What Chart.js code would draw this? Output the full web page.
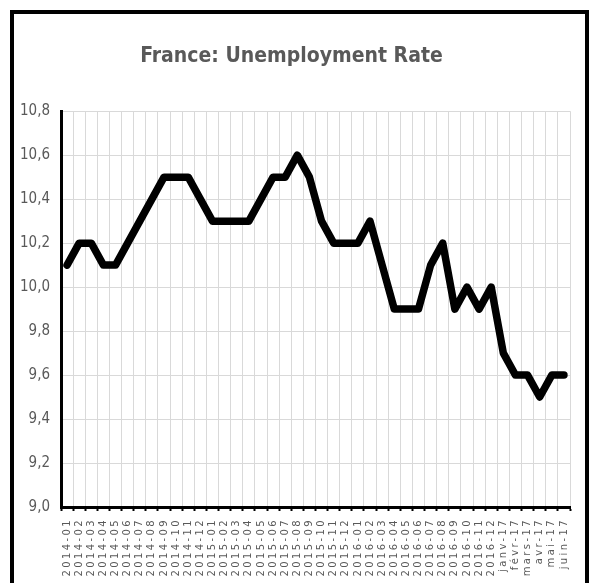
<!DOCTYPE html>
<html>
<head>
<meta charset="utf-8">
<script src="https://cdn.jsdelivr.net/npm/chart.js@4/dist/chart.umd.min.js"></script>
<style>
  html, body { margin: 0; padding: 0; background: #fff; overflow: hidden; }
  #wrap { position: relative; width: 590px; height: 583px; }
  #frame { position: absolute; left: 10px; top: 10px; width: 571px; height: 600px;
           border: 4px solid #000; pointer-events: none; }
</style>
</head>
<body>
<div id="wrap">
  <canvas id="line-chart" width="590" height="583"></canvas>
  <div id="frame"></div>
</div>
<script>
// data
const months = [
  "2014-01","2014-02","2014-03","2014-04","2014-05","2014-06","2014-07","2014-08","2014-09","2014-10","2014-11","2014-12",
  "2015-01","2015-02","2015-03","2015-04","2015-05","2015-06","2015-07","2015-08","2015-09","2015-10","2015-11","2015-12",
  "2016-01","2016-02","2016-03","2016-04","2016-05","2016-06","2016-07","2016-08","2016-09","2016-10","2016-11","2016-12",
  "janv-17","févr-17","mars-17","avr-17","mai-17","juin-17"
];
const unemployment = [
  10.1,10.2,10.2,10.1,10.1,10.2,10.3,10.4,10.5,10.5,10.5,10.4,
  10.3,10.3,10.3,10.3,10.4,10.5,10.5,10.6,10.5,10.3,10.2,10.2,
  10.2,10.3,10.1,9.9,9.9,9.9,10.1,10.2,9.9,10.0,9.9,10.0,
  9.7,9.6,9.6,9.5,9.6,9.6
];
const yMin = 9.0, yMax = 10.8, yStep = 0.2;

// spaced-out month labels, like the spreadsheet rendering
const spacedLabels = {
  id: 'spacedLabels',
  afterUpdate(chart) {
    const s = chart.scales.x;
    if (s._spaced) return;
    const orig = s.drawLabels.bind(s);
    s.drawLabels = function (area) {
      const ctx = this.ctx;
      ctx.save();
      ctx.letterSpacing = '2.4px';
      orig(area);
      ctx.restore();
    };
    s._spaced = true;
  }
};

new Chart(document.getElementById("line-chart"), {
  type: 'line',
  data: {
    labels: months,
    datasets: [{
      data: unemployment,
      borderColor: "#000",
      borderWidth: 7.5,
      borderJoinStyle: 'round',
      borderCapStyle: 'round',
      tension: 0,
      pointRadius: 0,
      fill: false
    }]
  },
  options: {
    responsive: false,
    animation: false,
    layout: { padding: { left: 13, right: 20, top: 14, bottom: 0 } },
    plugins: {
      legend: { display: false },
      tooltip: { enabled: false },
      title: {
        display: true,
        text: 'France: Unemployment Rate',
        color: '#595959',
        font: { family: "'DejaVu Sans Condensed', sans-serif", size: 21, weight: 'bold' },
        padding: { top: 30, bottom: 42 }
      }
    },
    scales: {
      x: {
        offset: true,
        grid: { color: '#d9d9d9', offset: true, tickColor: '#000', tickLength: 4, tickWidth: 2 },
        border: { color: '#000', width: 3 },
        ticks: {
          autoSkip: false, minRotation: 90, maxRotation: 90, padding: 7,
          color: '#595959',
          font: { family: "'DejaVu Sans', sans-serif", size: 10 }
        },
        afterFit: s => { s.height = 76; }
      },
      y: {
        min: yMin, max: yMax,
        grid: { color: '#d9d9d9', drawTicks: false },
        border: { color: '#000', width: 3 },
        ticks: {
          stepSize: yStep, padding: 11, color: '#595959',
          font: { family: "'DejaVu Sans Condensed', sans-serif", size: 15 },
          callback: v => v.toFixed(1).replace('.', ',')
        },
        afterFit: s => { s.width = 48; }
      }
    }
  },
  plugins: [spacedLabels]
});
</script>
</body>
</html>
